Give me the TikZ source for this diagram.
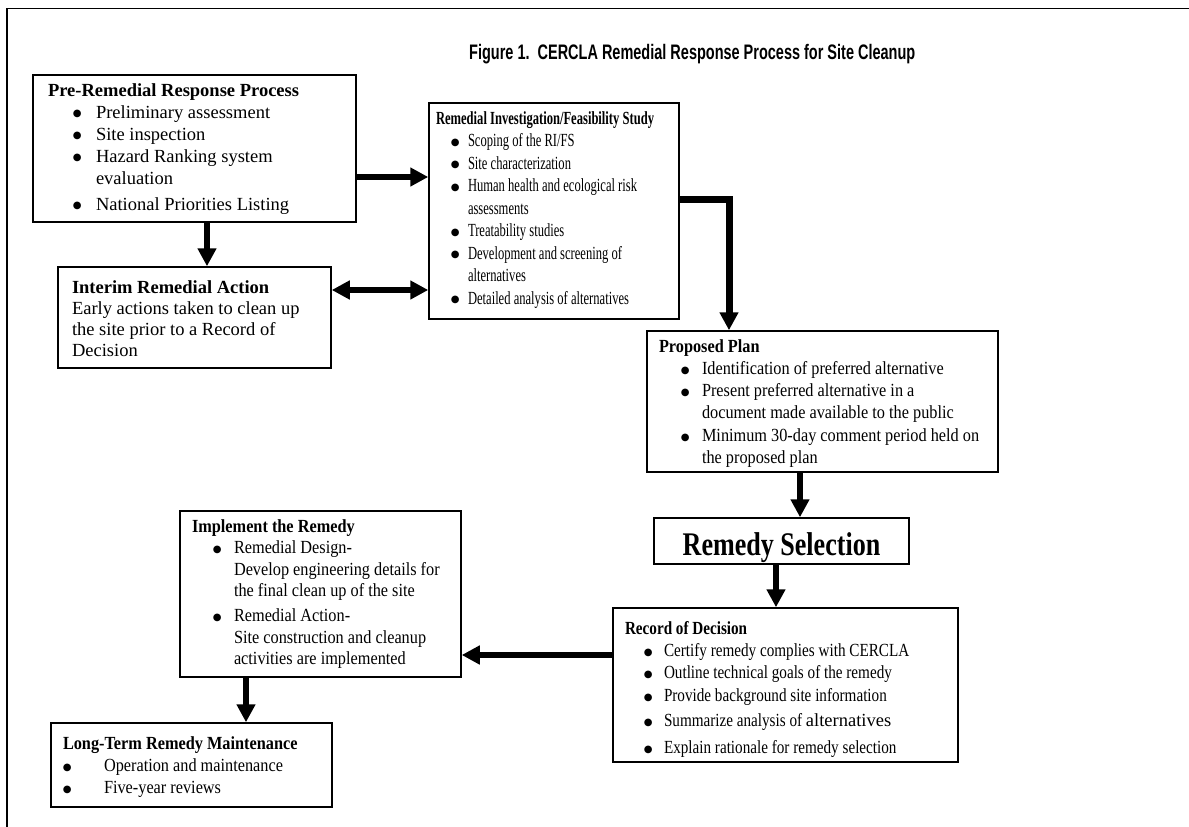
\documentclass[tikz,border=0pt]{standalone}
\usepackage{fontspec}
\setmainfont{Liberation Serif}
\newfontfamily\rifsfont[FakeStretch=0.68]{Liberation Serif}
\newfontfamily\narrowfont[FakeStretch=0.88]{Liberation Serif}
\newfontfamily\recordfont[FakeStretch=0.82]{Liberation Serif}
\newfontfamily\bigfont[FakeStretch=0.79]{Liberation Serif}
\newfontfamily\headfont[FakeStretch=0.69]{Liberation Sans}
\newfontfamily\dotfont{DejaVu Sans}
\usetikzlibrary{arrows.meta}

\newcommand{\dotmark}{\raisebox{1.2pt}{\dotfont\fontsize{10}{10}\selectfont ●}}
\newcommand{\entry}[2][0pt]{\par\vspace*{#1}\noindent\llap{\dotmark\hspace{\bgap}}#2}
\newcommand{\boxhead}[3]{\rule{0pt}{#1}\hspace*{#2}\textbf{#3}\par}

\begin{document}
\begin{tikzpicture}[x=1pt, y=-1pt,
  stage/.style={draw, line width=1.5pt, inner sep=0pt},
  bigtip/.tip={Triangle[length=18pt, width=18pt]},
  flow/.style={line width=5.5pt, -bigtip}]
\useasboundingbox (0,0) rectangle (1189,827);
\draw[line width=1.5pt] (7,827) -- (7,8.5) -- (1189,8.5);

\node[anchor=base west, inner sep=0pt, font=\headfont\fontsize{21}{24}\selectfont\bfseries] (title) at (469,59) {Figure 1.\ \ CERCLA Remedial Response Process for Site Cleanup};

\node[stage, font=\fontsize{18.5}{22}\selectfont] (pre) at (194.5,148.5) {\parbox[c][147pt][t]{323pt}{\raggedright
\boxhead{21pt}{15pt}{Pre-Remedial Response Process}
\leftskip=63pt\def\bgap{14.5pt}
\entry{Preliminary assessment}
\entry{Site inspection}
\entry{Hazard Ranking system\\evaluation}
\entry[4pt]{National Priorities Listing}}};

\node[stage, font=\fontsize{18.5}{21}\selectfont] (interim) at (194.5,317.5) {\parbox[c][101pt][t]{273pt}{\raggedright
\boxhead{26pt}{14pt}{Interim Remedial Action}
\leftskip=14pt
Early actions taken to clean up\\the site prior to a Record of\\Decision}};

\node[stage, font=\rifsfont\fontsize{18.5}{22.5}\selectfont] (rifs) at (554,211) {\parbox[c][216pt][t]{250pt}{\raggedright
\boxhead{21pt}{7pt}{Remedial Investigation/Feasibility Study}
\leftskip=39pt\def\bgap{8.5pt}
\entry{Scoping of the RI/FS}
\entry{Site characterization}
\entry{Human health and ecological risk\\assessments}
\entry{Treatability studies}
\entry{Development and screening of\\alternatives}
\entry{Detailed analysis of alternatives}}};

\node[stage, font=\narrowfont\fontsize{18.5}{22.3}\selectfont] (proposed) at (822.5,401.5) {\parbox[c][141pt][t]{351pt}{\raggedright
\boxhead{21pt}{12pt}{Proposed Plan}
\leftskip=55pt\def\bgap{12.5pt}
\entry{Identification of preferred alternative}
\entry{Present preferred alternative in a\\document made available to the public}
\entry{Minimum 30-day comment period held on\\the proposed plan}}};

\node[stage, minimum width=255pt, text height=37pt, text depth=9pt, font=\bigfont\fontsize{33}{36}\selectfont\bfseries] (remsel) at (781.5,541) {Remedy Selection};

\node[stage, font=\recordfont\fontsize{18.5}{22.4}\selectfont] (record) at (785.5,685) {\parbox[c][154pt][t]{345pt}{\raggedright
\boxhead{26pt}{12pt}{Record of Decision}
\leftskip=51pt\def\bgap{11.5pt}
\entry{Certify remedy complies with CERCLA}
\entry{Outline technical goals of the remedy}
\entry{Provide background site information}
\entry[2.6pt]{Summarize analysis of {\rmfamily alternatives}}
\entry[5pt]{Explain rationale for remedy selection}}};

\node[stage, font=\narrowfont\fontsize{18.5}{21.5}\selectfont] (implement) at (320.5,594) {\parbox[c][166pt][t]{281pt}{\raggedright
\boxhead{21pt}{12pt}{Implement the Remedy}
\leftskip=54pt\def\bgap{12.5pt}
\entry{Remedial Design-\\Develop engineering details for\\the final clean up of the site}
\entry[3.5pt]{Remedial Action-\\Site construction and cleanup\\activities are implemented}}};

\node[stage, font=\narrowfont\fontsize{18.5}{22.2}\selectfont] (longterm) at (191.5,765) {\parbox[c][84pt][t]{281pt}{\raggedright
\boxhead{26pt}{12pt}{Long-Term Remedy Maintenance}
\leftskip=53pt\def\bgap{32.5pt}
\entry{Operation and maintenance}
\entry{Five-year reviews}}};

\coordinate (c1) at ([xshift=12.5pt]pre.south);
\coordinate (c2) at ([yshift=-28.5pt]pre.east);
\coordinate (c3) at ([yshift=27.5pt]interim.east);
\coordinate (c4) at ([yshift=12pt]rifs.east);
\coordinate (c5) at ([xshift=-93.5pt]proposed.north);
\coordinate (c6) at ([xshift=-22.5pt]proposed.south);
\coordinate (c7) at ([xshift=-5.5pt]remsel.south);
\coordinate (c8) at ([yshift=30pt]record.west);
\coordinate (c9) at ([xshift=-74.5pt]implement.south);
\draw[flow] (c1) -- (c1 |- interim.north);
\draw[flow] (c2) -- (c2 -| rifs.west);
\draw[flow, bigtip-bigtip] (c3) -- (c3 -| rifs.west);
\draw[flow, line width=7pt] (c4) -| (c5);
\draw[flow] (c6) -- (c6 |- remsel.north);
\draw[flow] (c7) -- (c7 |- record.north);
\draw[flow] (c8) -- (c8 -| implement.east);
\draw[flow] (c9) -- (c9 |- longterm.north);
\end{tikzpicture}
\end{document}
